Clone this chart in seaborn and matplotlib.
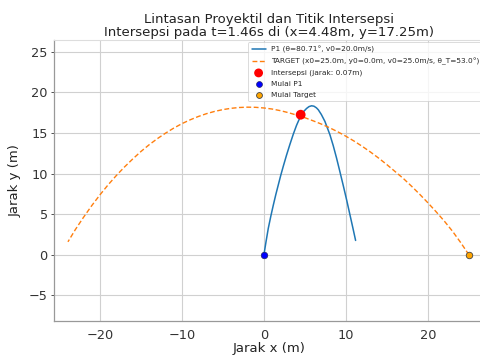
import numpy as np
import pandas as pd
import matplotlib
matplotlib.use("Agg")
import matplotlib.pyplot as plt
import seaborn as sns

# --- data ---
p1_x = [0.0, 0.25, 0.53, 0.85, 1.14, 1.45, 1.75, 2.05, 2.36, 2.75, 3.17, 3.58, 3.98, 4.48, 4.85, 5.2, 5.5, 5.81, 6.1, 6.4, 6.63, 7.0, 7.44, 8.05, 8.45, 8.86, 9.25, 9.67, 10.1, 10.49, 10.85, 11.18]
p1_y = [0.0, 1.58, 3.25, 4.8, 6.1, 7.42, 8.6, 9.78, 10.9, 12.25, 13.6, 14.85, 15.95, 17.1, 17.65, 18.02, 18.25, 18.35, 18.3, 18.1, 17.86, 17.28, 16.42, 14.78, 13.45, 11.9, 10.3, 8.55, 6.7, 4.93, 3.3, 1.77]

tg_x = [25.0, 24.0, 23.0, 22.0, 21.0, 20.0, 19.0, 18.0, 17.0, 16.0, 15.0, 14.0, 13.0, 12.0, 11.0, 10.0, 9.0, 8.0, 7.0, 6.0, 5.0, 4.0, 3.0, 2.0, 1.0, 0.0, -1.0, -2.0, -3.0, -4.0, -5.0, -6.0, -7.0, -8.0, -9.0, -10.0, -11.0, -12.0, -13.0, -14.0, -15.0, -16.0, -17.0, -18.0, -19.0, -20.0, -21.0, -22.0, -23.0, -23.9]
tg_y = [0.0, 1.5, 2.9, 4.15, 5.3, 6.4, 7.45, 8.45, 9.4, 10.25, 11.1, 11.9, 12.65, 13.35, 14.0, 14.6, 15.15, 15.65, 16.1, 16.5, 16.88, 17.2, 17.5, 17.75, 17.95, 18.08, 18.16, 18.18, 18.14, 18.04, 17.88, 17.66, 17.38, 17.03, 16.62, 16.15, 15.6, 14.98, 14.3, 13.55, 12.72, 11.8, 10.82, 9.76, 8.62, 7.38, 6.05, 4.62, 3.1, 1.6]

hit_x = [4.48]
hit_y = [17.25]
p1_start = ([0.0], [0.0])
tg_start = ([25.0], [0.0])

label_p1 = "P1 (θ=80.71°, v0=20.0m/s)"
label_tg = "TARGET (x0=25.0m, y0=0.0m, v0=25.0m/s, θ_T=53.0°)"
label_hit = "Intersepsi (jarak: 0.07m)"
label_s1 = "Mulai P1"
label_s2 = "Mulai Target"
title = "Lintasan Proyektil dan Titik Intersepsi\nIntersepsi pada t=1.46s di (x=4.48m, y=17.25m)"

sns.set_style("whitegrid")
plt.rcParams['font.family'] = ['DejaVu Sans']

W, H = 481, 356
fig = plt.figure(figsize=(W / 100, H / 100), dpi=100)
ax = fig.add_axes([54 / W, (H - 321) / H, (485 - 54) / W, (321 - 40) / H])

df1 = pd.DataFrame({"x": p1_x, "y": p1_y})
df2 = pd.DataFrame({"x": tg_x, "y": tg_y})

sns.lineplot(data=df1, x="x", y="y", sort=False, ax=ax, color="#1f77b4", lw=1.1, label=label_p1)
sns.lineplot(data=df2, x="x", y="y", sort=False, ax=ax, color="#ff7f0e", lw=1.0, label=label_tg)
ax.lines[-1].set_linestyle((0, (3.5, 1.8)))

sns.scatterplot(x=hit_x, y=hit_y, ax=ax, color="red", s=50, edgecolor="none", label=label_hit, zorder=5)
sns.scatterplot(x=p1_start[0], y=p1_start[1], ax=ax, color="blue", s=22, edgecolor="#222266", linewidth=0.5, label=label_s1, zorder=5)
sns.scatterplot(x=tg_start[0], y=tg_start[1], ax=ax, color="orange", s=22, edgecolor="#444444", linewidth=0.6, label=label_s2, zorder=5)

ax.set_xlim(-25.6, 26.96)
ax.set_ylim(-8.15, 26.45)
ax.set_xticks([-20, -10, 0, 10, 20])
ax.set_yticks([-5, 0, 5, 10, 15, 20, 25])

ax.grid(True, color="#d0d0d0", lw=0.8)
for side in ["left", "bottom"]:
    ax.spines[side].set_color("#999999")
    ax.spines[side].set_linewidth(0.9)
ax.spines["top"].set_color("#dddddd")
ax.spines["right"].set_color("#dddddd")

ax.tick_params(axis="both", labelsize=9.3, colors="#333333", length=2.5, width=0.6, pad=2,
               left=True, bottom=False)
ax.tick_params(axis="x", pad=3)
ax.set_xlabel("Jarak x (m)", fontsize=9.5, color="#222222", labelpad=0)
ax.set_ylabel("Jarak y (m)", fontsize=9.5, color="#222222", labelpad=5)
ax.set_title(title, fontsize=9.5, color="#222222", pad=3, linespacing=1.0)

leg = ax.legend(loc="upper right", fontsize=5.3, frameon=True, borderpad=0.5,
                labelspacing=0.62, handlelength=1.9, handletextpad=0.7, markerscale=0.9, borderaxespad=0.3)
leg.get_frame().set_edgecolor("#cccccc")
leg.get_frame().set_linewidth(0.6)

fig.savefig("out.png", dpi=100)
